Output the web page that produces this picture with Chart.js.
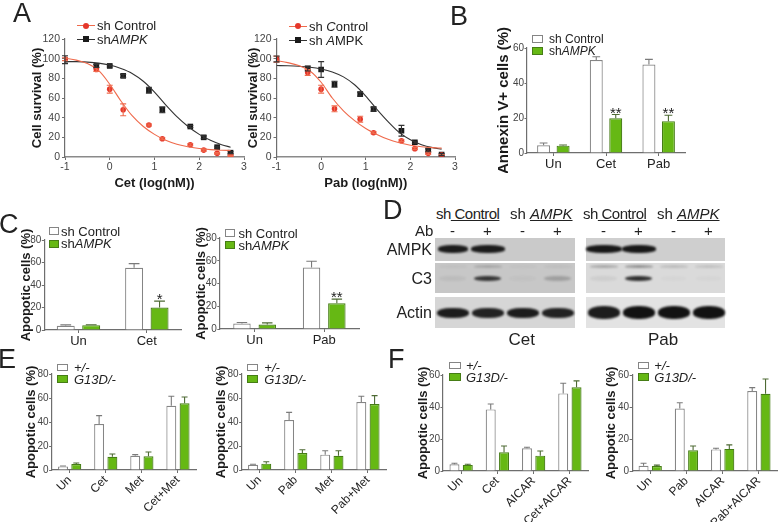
<!DOCTYPE html>
<html><head><meta charset="utf-8">
<script src="https://cdn.jsdelivr.net/npm/chart.js@4.4.1/dist/chart.umd.min.js"></script>
<style>
body{margin:0;background:#fff;font-family:"Liberation Sans",Arial,Helvetica,sans-serif;color:#222;}
#root{position:relative;width:778px;height:522px;overflow:hidden;background:#fff;}
</style></head><body><div id="root"></div>
<script>
// ---------- DATA ----------
const doseX = [-1, -0.3, 0, 0.3, 0.875, 1.175, 1.8, 2.1, 2.4, 2.7];
const cetCtrl = [99.5, 89, 69, 48, 32.5, 18.6, 12.5, 7, 3.7, 1.4];
const cetCtrlErr = [1.5, 2, 4, 6, 1, 1, 1, 1, 0.8, 0.5];
const cetAmpk = [99, 92.6, 92.6, 82.5, 68, 48, 31, 20, 10, 4.4];
const cetAmpkErr = [4, 1.5, 1, 1.5, 3, 3, 1, 1.5, 1, 1];
const pabCtrl = [99.4, 86, 69, 49, 38.5, 24.7, 16.6, 8.5, 3.7, 2];
const pabCtrlErr = [3, 3, 4, 3, 3, 1, 1, 1, 1, 0.5];
const pabAmpk = [99.7, 90, 89, 74, 64, 48.7, 26.7, 15, 6.8, 2.4];
const pabAmpkErr = [3, 2.5, 8, 3, 2, 2, 5.5, 1, 1.5, 1];
const fitX = [-1, -0.75, -0.5, -0.25, 0, 0.25, 0.5, 0.75, 1, 1.25, 1.5, 1.75, 2, 2.25, 2.5, 2.7];
const cetCtrlFit = [100.5, 98.5, 95, 88, 74, 57, 42, 31, 23, 17, 13, 10.5, 8.6, 7.5, 6.9, 6.6];
const cetAmpkFit = [97, 97, 96.5, 95.5, 93.5, 90, 85, 77, 66, 53, 41, 31, 23, 17, 12.5, 10];
const pabCtrlFit = [98, 96, 93, 87.5, 76, 60, 47, 37, 29, 23, 18, 14.5, 12, 10.5, 9.5, 9];
const pabAmpkFit = [93, 92.8, 92.3, 91.3, 89.5, 86.5, 81.5, 73.5, 62, 48.5, 36, 25, 17.5, 12.5, 9.5, 8];
const doseTicks = [-1, 0, 1, 2, 3];

const bCats = ['Un', 'Cet', 'Pab'];
const bCtrl = [4.4, 53.1, 50.6];
const bCtrlErr = [1.3, 1.9, 2.9];
const bAmpk = [4.2, 19.9, 18.2];
const bAmpkErr = [0.4, 2.1, 3.4];
const bStars = ['', '**', '**'];

const cCetCats = ['Un', 'Cet'];
const cCetCtrl = [3.7, 55.4];
const cCetCtrlErr = [0.9, 3.6];
const cCetAmpk = [4.3, 20];
const cCetAmpkErr = [0.4, 5.7];
const cCetStars = ['', '*'];
const cPabCats = ['Un', 'Pab'];
const cPabCtrl = [4.8, 54];
const cPabCtrlErr = [0.9, 5.5];
const cPabAmpk = [3.9, 22.7];
const cPabAmpkErr = [1.5, 3.6];
const cPabStars = ['', '**'];

const eCetCats = ['Un', 'Cet', 'Met', 'Cet+Met'];
const eCetHet = [3, 38.3, 11.9, 53.6];
const eCetHetErr = [0.3, 7, 0.9, 7.8];
const eCetMut = [5, 11.1, 11.4, 55.6];
const eCetMutErr = [0.8, 2.2, 3.6, 5.2];
const ePabCats = ['Un', 'Pab', 'Met', 'Pab+Met'];
const ePabHet = [4.4, 41.7, 12.8, 56.7];
const ePabHetErr = [0.4, 6.3, 3.2, 4.7];
const ePabMut = [5.3, 14.2, 11.9, 55];
const ePabMutErr = [1.6, 2.7, 4.1, 7];

const fCetCats = ['Un', 'Cet', 'AICAR', 'Cet+AICAR'];
const fCetHet = [4.2, 38.5, 14.2, 48.5];
const fCetHetErr = [0.6, 3.4, 0.6, 6.3];
const fCetMut = [3.8, 11.7, 9.6, 52.3];
const fCetMutErr = [0.4, 3.9, 2.9, 4];
const fPabCats = ['Un', 'Pab', 'AICAR', 'Pab+AICAR'];
const fPabHet = [3.3, 39, 13.5, 50];
const fPabHetErr = [1.5, 3.7, 0.7, 2.1];
const fPabMut = [3.1, 12.9, 13.8, 48.3];
const fPabMutErr = [0.6, 2.7, 2.5, 9.2];

// western blot band intensities (lanes: ctrl -, ctrl +, AMPK -, AMPK +)
const abSigns = ['-', '+', '-', '+'];
const ampkCet = [0.95, 0.95, 0, 0];
const c3Cet = [0.06, 0.8, 0.03, 0.22];
const c3CetUpper = [0.04, 0.18, 0.03, 0.05];
const actinCet = [0.95, 0.92, 0.95, 0.92];
const ampkPab = [0.97, 0.97, 0, 0];
const c3Pab = [0.06, 0.85, 0.02, 0.02];
const c3PabUpper = [0.25, 0.35, 0.15, 0.12];
const actinPab = [0.95, 1, 1, 1];

// ---------- SETUP ----------
const root = document.getElementById('root');
const FONT = "'Liberation Sans', Arial, Helvetica, sans-serif";
Chart.defaults.font.family = FONT;
Chart.defaults.color = '#333';
Chart.defaults.animation = false;
Chart.defaults.events = [];
Chart.defaults.plugins.legend.display = false;
Chart.defaults.plugins.tooltip.enabled = false;
const AX = '#6e6e6e';
const RED = '#e5372b';
const REDL = '#ef6a4c';
const BLK = '#1a1a1a';
const GREEN = '#66b814';
const GREEN_D = '#467d16';
const GRAYB = '#858585';

const errPlugin = {
  id: 'errbars',
  afterDatasetsDraw(chart) {
    const ctx = chart.ctx;
    const ys = chart.scales.y;
    chart.data.datasets.forEach((ds, i) => {
      if (!ds.err) return;
      const meta = chart.getDatasetMeta(i);
      meta.data.forEach((el, j) => {
        const e = ds.err[j];
        if (e == null) return;
        const raw = ds.data[j];
        const v = typeof raw === 'object' ? raw.y : raw;
        const x = el.x;
        const top = ys.getPixelForValue(v + e);
        const bot = ds.errBoth ? ys.getPixelForValue(v - e) : ys.getPixelForValue(v);
        const cw = ds.capW != null ? ds.capW : (el.width ? el.width * 0.6 : 6);
        ctx.save();
        ctx.strokeStyle = ds.errColor || '#555';
        ctx.lineWidth = ds.errWidth || 1.1;
        ctx.beginPath();
        ctx.moveTo(x, bot); ctx.lineTo(x, top);
        ctx.moveTo(x - cw / 2, top); ctx.lineTo(x + cw / 2, top);
        if (ds.errBoth) { ctx.moveTo(x - cw / 2, bot); ctx.lineTo(x + cw / 2, bot); }
        ctx.stroke();
        if (ds.stars && ds.stars[j]) {
          ctx.fillStyle = '#222';
          ctx.font = '15px ' + FONT;
          ctx.textAlign = 'center';
          ctx.textBaseline = 'alphabetic';
          ctx.fillText(ds.stars[j], x, top + 3);
        }
        ctx.restore();
      });
    });
  }
};
Chart.register(errPlugin);

function makeChart(area, yw, xh, padTop, padRight, config) {
  const c = document.createElement('canvas');
  const left = area.l - yw, top = area.t - padTop;
  const w = Math.round(area.r - left + padRight), h = Math.round(area.b - top + xh);
  c.width = w; c.height = h;
  c.style.cssText = `position:absolute;left:${left}px;top:${top}px;width:${w}px;height:${h}px;`;
  root.appendChild(c);
  config.options.responsive = false;
  config.options.layout = { autoPadding: false, padding: { left: 0, top: padTop, right: padRight, bottom: 0 } };
  config.options.scales.x.afterFit = s => { s.height = xh; };
  config.options.scales.y.afterFit = s => { s.width = yw; };
  return new Chart(c, config);
}

function yAxis(max, step, title, tfs, tfont, tlen, tpad) {
  return {
    min: 0, max: max,
    grid: { display: true, drawOnChartArea: false, drawTicks: true, tickLength: tlen, color: AX, lineWidth: 1 },
    border: { display: true, color: AX, width: 1.2 },
    ticks: { stepSize: step, font: { size: tfont }, color: '#444', padding: tpad },
    title: { display: true, text: title, font: { size: tfs, weight: 'bold' }, padding: 0, color: '#1a1a1a' }
  };
}

function doseChart(area, yw, xh, title, ctrl, ctrlE, ampk, ampkE, ctrlFit, ampkFit) {
  const pts = arr => doseX.map((x, i) => ({ x: x, y: arr[i] }));
  const fit = arr => fitX.map((x, i) => ({ x: x, y: arr[i] }));
  return makeChart(area, yw, xh, 16, 8, {
    type: 'scatter',
    data: { datasets: [
      { data: fit(ctrlFit), showLine: true, borderColor: REDL, borderWidth: 1.1, pointRadius: 0, cubicInterpolationMode: 'monotone' },
      { data: fit(ampkFit), showLine: true, borderColor: '#333', borderWidth: 1.1, pointRadius: 0, cubicInterpolationMode: 'monotone' },
      { data: pts(ctrl), pointStyle: 'circle', pointRadius: 2.8, backgroundColor: RED, borderColor: RED, borderWidth: 0, err: ctrlE, errBoth: true, errColor: REDL, capW: 6 },
      { data: pts(ampk), pointStyle: 'rect', pointRadius: 4, backgroundColor: BLK, borderColor: BLK, borderWidth: 0, err: ampkE, errBoth: true, errColor: '#333', capW: 6 }
    ] },
    options: { scales: {
      x: { type: 'linear', min: -1, max: 3,
        afterBuildTicks: s => { s.ticks = doseTicks.map(v => ({ value: v })); },
        grid: { display: true, drawOnChartArea: false, tickLength: 3, color: AX },
        border: { display: true, color: '#8a8a8a', width: 1.4, dash: [2, 1.5] },
        ticks: { font: { size: 10.5 }, color: '#444', padding: 1 },
        title: { display: true, text: title, font: { size: 13, weight: 'bold' }, padding: 0, color: '#1a1a1a' } },
      y: yAxis(120, 20, 'Cell survival (%)', 13, 10.5, 3, 2)
    } }
  });
}

function barChart(area, yw, xh, cats, c, ce, g, ge, ymax, step, o) {
  return makeChart(area, yw, xh, o.padT || 18, o.padR != null ? o.padR : 4, {
    type: 'bar',
    data: { labels: cats, datasets: [
      { data: c, backgroundColor: '#ffffff', borderColor: GRAYB, borderWidth: 1.2, err: ce, errColor: '#7a7a7a', categoryPercentage: o.cp, barPercentage: o.bp },
      { data: g, backgroundColor: GREEN, borderColor: GREEN_D, borderWidth: 1.2, err: ge, errColor: '#4e6a34', stars: o.stars, categoryPercentage: o.cp, barPercentage: o.bp }
    ] },
    options: { scales: {
      x: { grid: { display: true, drawOnChartArea: false, tickLength: 3, color: AX, offset: false },
        border: { display: true, color: AX, width: 1.2 },
        ticks: { font: { size: o.xfs }, color: '#222', padding: o.xpad != null ? o.xpad : 1, maxRotation: o.rot, minRotation: o.rot, autoSkip: false } },
      y: yAxis(ymax, step, o.title, o.tfs, 10, 2.5, 0.5)
    } }
  });
}

// ---------- HTML helpers ----------
function div(html, css) {
  const d = document.createElement('div');
  d.innerHTML = html;
  d.style.cssText = 'position:absolute;white-space:nowrap;' + css;
  root.appendChild(d);
  return d;
}
function text(html, x, cy, fs, align, extra) {
  let css = `top:${cy - 0.5 * fs}px;font-size:${fs}px;line-height:${fs}px;`;
  if (align === 'right') css += `left:${x - 300}px;width:300px;text-align:right;`;
  else if (align === 'center') css += `left:${x - 150}px;width:300px;text-align:center;`;
  else css += `left:${x}px;`;
  return div(html, css + (extra || ''));
}
function boxLegend(bx, bw, bh, rows, tx, fs) {
  rows.forEach(r => {
    div('', `left:${bx}px;top:${r.y - bh / 2}px;width:${bw}px;height:${bh}px;box-sizing:border-box;border:1.2px solid ${r.stroke};background:${r.fill};`);
    text(r.html, tx, r.y, fs, 'left', 'color:#222;');
  });
}
function lineLegend(x1, x2, rows, tx, fs) {
  rows.forEach(r => {
    div('', `left:${x1}px;top:${r.y - 0.5}px;width:${x2 - x1}px;height:1px;background:${r.line};`);
    const m = (x1 + x2) / 2;
    if (r.marker === 'circle') div('', `left:${m - 3}px;top:${r.y - 3}px;width:6px;height:6px;border-radius:50%;background:${r.color};`);
    else div('', `left:${m - 3}px;top:${r.y - 3}px;width:6px;height:6px;background:${r.color};`);
    text(r.html, tx, r.y, fs, 'left', 'color:#222;');
  });
}

// ---------- PANEL A ----------
doseChart({ l: 65, t: 39, r: 244, b: 157 }, 35, 34, 'Cet (log(nM))', cetCtrl, cetCtrlErr, cetAmpk, cetAmpkErr, cetCtrlFit, cetAmpkFit);
doseChart({ l: 276.7, t: 39.3, r: 455, b: 157.7 }, 30.5, 34, 'Pab (log(nM))', pabCtrl, pabCtrlErr, pabAmpk, pabAmpkErr, pabCtrlFit, pabAmpkFit);
lineLegend(77, 95, [
  { y: 25.5, line: REDL, color: RED, marker: 'circle', html: 'sh Control' },
  { y: 39.3, line: '#333', color: BLK, marker: 'rect', html: 'sh<i>AMPK</i>' }
], 97, 13);
lineLegend(289, 307, [
  { y: 26, line: REDL, color: RED, marker: 'circle', html: 'sh <i>C</i>ontrol' },
  { y: 40, line: '#333', color: BLK, marker: 'rect', html: 'sh <i>A</i>MPK' }
], 309, 13);

// ---------- PANEL B ----------
barChart({ l: 527, t: 48, r: 685, b: 152.7 }, 32, 20, bCats, bCtrl, bCtrlErr, bAmpk, bAmpkErr, 60, 20,
  { cp: 0.74, bp: 0.667, xfs: 13, rot: 0, title: 'Annexin V+ cells (%)', tfs: 15, stars: bStars, padT: 30 });
boxLegend(532.3, 11, 8, [
  { y: 39, fill: '#fff', stroke: GRAYB, html: 'sh Control' },
  { y: 50.5, fill: GREEN, stroke: GREEN_D, html: 'sh<i>AMPK</i>' }
], 549, 12);

// ---------- PANEL C ----------
barChart({ l: 44, t: 240.3, r: 181, b: 330.5 }, 25.3, 20, cCetCats, cCetCtrl, cCetCtrlErr, cCetAmpk, cCetAmpkErr, 80, 20,
  { cp: 0.745, bp: 0.706, xfs: 13, rot: 0, title: 'Apopotic cells (%)', tfs: 13, stars: cCetStars });
barChart({ l: 219.5, t: 238, r: 358.5, b: 328.7 }, 25.8, 20, cPabCats, cPabCtrl, cPabCtrlErr, cPabAmpk, cPabAmpkErr, 80, 20,
  { cp: 0.727, bp: 0.69, xfs: 13, rot: 0, title: 'Apopotic cells (%)', tfs: 13, stars: cPabStars });
boxLegend(49.3, 9.5, 8, [
  { y: 231.2, fill: '#fff', stroke: GRAYB, html: 'sh Control' },
  { y: 243.7, fill: GREEN, stroke: GREEN_D, html: 'sh<i>AMPK</i>' }
], 61, 13);
boxLegend(225, 10, 8, [
  { y: 233, fill: '#fff', stroke: GRAYB, html: 'sh Control' },
  { y: 245, fill: GREEN, stroke: GREEN_D, html: 'sh<i>AMPK</i>' }
], 238.5, 13);

// ---------- PANEL E ----------
const rotOpts = { cp: 0.735, bp: 0.75, xfs: 12, rot: 45, title: 'Apopotic cells (%)', tfs: 13, xpad: 0 };
barChart({ l: 51.5, t: 374.3, r: 196.3, b: 470.3 }, 27.6, 51, eCetCats, eCetHet, eCetHetErr, eCetMut, eCetMutErr, 80, 20, rotOpts);
barChart({ l: 241.5, t: 374.3, r: 386.3, b: 470.3 }, 27.6, 51, ePabCats, ePabHet, ePabHetErr, ePabMut, ePabMutErr, 80, 20, rotOpts);
boxLegend(56.7, 11.6, 7.5, [
  { y: 367.5, fill: '#fff', stroke: GRAYB, html: '<i>+/-</i>' },
  { y: 379.2, fill: GREEN, stroke: GREEN_D, html: '<i>G13D/-</i>' }
], 74, 13);
boxLegend(246.7, 11.6, 7.5, [
  { y: 367.5, fill: '#fff', stroke: GRAYB, html: '<i>+/-</i>' },
  { y: 379.2, fill: GREEN, stroke: GREEN_D, html: '<i>G13D/-</i>' }
], 264.3, 13);

// ---------- PANEL F ----------
barChart({ l: 442.5, t: 375, r: 587.3, b: 471 }, 27, 51, fCetCats, fCetHet, fCetHetErr, fCetMut, fCetMutErr, 60, 20, rotOpts);
barChart({ l: 632, t: 375, r: 776.5, b: 471 }, 28.1, 51, fPabCats, fPabHet, fPabHetErr, fPabMut, fPabMutErr, 60, 20, Object.assign({}, rotOpts, { padR: 1 }));
boxLegend(449.3, 11.6, 7.5, [
  { y: 365.3, fill: '#fff', stroke: GRAYB, html: '<i>+/-</i>' },
  { y: 377.2, fill: GREEN, stroke: GREEN_D, html: '<i>G13D/-</i>' }
], 466, 13);
boxLegend(637.7, 11.6, 7.5, [
  { y: 365.3, fill: '#fff', stroke: GRAYB, html: '<i>+/-</i>' },
  { y: 377.2, fill: GREEN, stroke: GREEN_D, html: '<i>G13D/-</i>' }
], 654.3, 13);

// ---------- PANEL D (western blot) ----------
const blots = [
  { x0: 435, x1: 575, lanes: [452.5, 487.5, 522.5, 557.5], bg: ['#cacaca', '#c7c7c7', '#d6d6d6'],
    ampk: ampkCet, c3: c3Cet, c3u: c3CetUpper, actin: actinCet, aw: [30, 34, 30, 30], actH: 10 },
  { x0: 585.7, x1: 725, lanes: [603.5, 638.5, 673.5, 708.5], bg: ['#cfcfcf', '#dadada', '#e3e3e3'],
    ampk: ampkPab, c3: c3Pab, c3u: c3PabUpper, actin: actinPab, aw: [36, 34, 30, 30], actH: 13 }
];
const rows = [{ t: 237.7, b: 260.7 }, { t: 263.3, b: 293.3 }, { t: 297.3, b: 328.3 }];
function band(cx, cy, w, h, a, blur) {
  if (a <= 0) return;
  div('', `left:${cx - w / 2}px;top:${cy - h / 2}px;width:${w}px;height:${h}px;border-radius:45%;background:rgba(18,18,18,${a});filter:blur(${blur}px);`);
}
blots.forEach(bl => {
  rows.forEach((r, k) => div('', `left:${bl.x0}px;top:${r.t}px;width:${bl.x1 - bl.x0}px;height:${r.b - r.t}px;background:${bl.bg[k]};`));
  bl.lanes.forEach((cx, i) => {
    band(cx, 249, bl.aw[i], 7.5, bl.ampk[i], 0.8);
    band(cx, 266, 28, 3, bl.c3u[i], 1);
    band(cx, 278, 27, 5, bl.c3[i], 1);
    band(cx, 312.5, 32, bl.actH, bl.actin[i], 0.9);
  });
});
text('sh<u> Control</u>', 436, 213, 15, 'left', 'letter-spacing:-0.5px;');
text('sh <u><i>AMPK</i></u>', 510, 213, 15, 'left');
text('sh<u> Control</u>', 583, 213, 15, 'left', 'letter-spacing:-0.5px;');
text('sh <u><i>AMPK</i></u>', 657, 213, 15, 'left');
text('Ab', 415, 230.5, 15, 'left');
blots.forEach(bl => bl.lanes.forEach((cx, i) => text(abSigns[i], cx, 230.5, 15, 'center')));
text('AMPK', 432, 249.5, 16, 'right');
text('C3', 432, 278.5, 16, 'right');
text('Actin', 432, 313, 16, 'right');
text('Cet', 521.7, 339, 17, 'center');
text('Pab', 663, 339, 17, 'center');

// ---------- PANEL LETTERS ----------
text('A', 13, 13, 27);
text('B', 450, 16.7, 27);
text('C', -1, 224, 27);
text('D', 383, 210.8, 27);
text('E', -2, 359, 27);
text('F', 388, 359, 27);
</script></body></html>
